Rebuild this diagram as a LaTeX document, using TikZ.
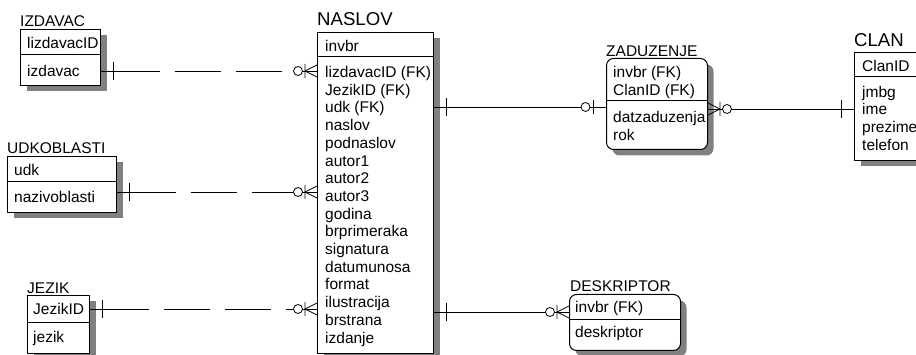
\documentclass[tikz,border=0pt]{standalone}
\usepackage{fontspec}
\setmainfont{Liberation Sans}
\usetikzlibrary{shadows}

\tikzset{
    ent/.style={draw, fill=white, line width=1pt, anchor=north west, inner sep=0pt,
        drop shadow={shadow xshift=6pt, shadow yshift=-6pt, fill=gray, opacity=1}},
    weak/.style={ent, rounded corners=7pt},
    sep/.style={line width=1pt},
    title/.style={anchor=west, inner sep=0pt},
    bigtitle/.style={title, font=\fontsize{18.6}{22}\selectfont},
    txt/.style={anchor=north west, inner sep=0pt, align=left},
    conn/.style={line width=0.8pt},
    dashes/.style={conn, dash pattern=on 46pt off 15pt},
    % jedan
    onebar/.pic={\draw[conn] (-12.5,-9) -- (-12.5,9);},
    % nula ili jedan
    zeroone/.pic={
        \draw[conn] (-13,-7) -- (-13,7);
        \draw[conn, fill=white] (-20.5,0) circle[radius=4.5pt];},
    % nula ili vise
    zeromany/.pic={
        \draw[conn] (-12,0) -- (0,-6) (-12,0) -- (0,6) (-12,-7) -- (-12,7);
        \draw[conn, fill=white] (-19,0) circle[radius=4.5pt];}
}

\begin{document}
\begin{tikzpicture}[x=1pt, y=-1pt, font=\fontsize{15.5}{17.7}\selectfont]
    \clip (0,0) rectangle (916,355);

    % IZDAVAC
    \node[title] (izdavactitle) at (20,21.5) {IZDAVAC};
    \node[ent, minimum width=80pt, minimum height=56pt] (izdavac) at (20,29) {};
    \draw[sep] (izdavac.west |- 0,55) -- (izdavac.east |- 0,55);
    \node[txt] (izdavackey) at (27,36) {\strut lizdavacID};
    \node[txt] (izdavacatr) at (27,64) {\strut izdavac};

    % UDKOBLASTI
    \node[title] (udktitle) at (7,148.5) {UDKOBLASTI};
    \node[ent, minimum width=109pt, minimum height=56pt] (udk) at (7,156) {};
    \draw[sep] (udk.west |- 0,182) -- (udk.east |- 0,182);
    \node[txt] (udkkey) at (14,163) {\strut udk};
    \node[txt] (udkatr) at (14,190) {\strut nazivoblasti};

    % JEZIK
    \node[title] (jeziktitle) at (27,288.5) {JEZIK};
    \node[ent, minimum width=62pt, minimum height=58pt] (jezik) at (27,295) {};
    \draw[sep] (jezik.west |- 0,323) -- (jezik.east |- 0,323);
    \node[txt] (jezikkey) at (33,302) {\strut JezikID};
    \node[txt] (jezikatr) at (33,330) {\strut jezik};

    % NASLOV
    \node[bigtitle] (naslovtitle) at (317,19.5) {NASLOV};
    \node[ent, minimum width=116pt, minimum height=321pt] (naslov) at (317,32) {};
    \draw[sep] (naslov.west |- 0,57) -- (naslov.east |- 0,57);
    \node[txt] (naslovkey) at (325,39) {\strut invbr};
    \node[txt] (naslovatr) at (325,65) {\strut lizdavacID (FK)\\ JezikID (FK)\\ udk (FK)\\
        naslov\\ podnaslov\\ autor1\\ autor2\\ autor3\\ godina\\ brprimeraka\\ signatura\\
        datumunosa\\ format\\ ilustracija\\ brstrana\\ izdanje};

    % ZADUZENJE
    \node[title] (zaduzenjetitle) at (606,51) {ZADUZENJE};
    \node[weak, minimum width=101pt, minimum height=91pt] (zaduzenje) at (606,58) {};
    \draw[sep] (zaduzenje.west |- 0,101) -- (zaduzenje.east |- 0,101);
    \node[txt] (zaduzenjekey) at (613,65) {\strut invbr (FK)\\ ClanID (FK)};
    \node[txt] (zaduzenjeatr) at (613,110) {\strut datzaduzenja\\ rok};

    % CLAN
    \node[bigtitle] (clantitle) at (854,40) {CLAN};
    \node[ent, minimum width=90pt, minimum height=108pt] (clan) at (854,52) {};
    \draw[sep] (clan.west |- 0,77) -- (clan.east |- 0,77);
    \node[txt] (clankey) at (862,59) {\strut ClanID};
    \node[txt] (clanatr) at (862,84.5) {\strut jmbg\\ ime\\ prezime\\ telefon};

    % DESKRIPTOR
    \node[title] (deskriptortitle) at (570,286) {DESKRIPTOR};
    \node[weak, minimum width=111pt, minimum height=56pt] (deskriptor) at (569,294) {};
    \draw[sep] (deskriptor.west |- 0,320) -- (deskriptor.east |- 0,320);
    \node[txt] (deskriptorkey) at (575,300) {\strut invbr (FK)};
    \node[txt] (deskriptoratr) at (575,325) {\strut deskriptor};

    % visine veza
    \coordinate (r1) at (0,71);
    \coordinate (r2) at (0,192);
    \coordinate (r3) at (0,309);
    \coordinate (r4) at (0,107);
    \coordinate (r5) at (0,109);
    \coordinate (r6) at (0,312);

    % neidentifikujuce veze (isprekidane)
    \draw[conn] (izdavac.east |- r1) -- +(12.5,0) (naslov.west |- r1) -- +(-19,0);
    \draw[dashes] ([xshift=12.5pt]izdavac.east |- r1) -- ([xshift=-19pt]naslov.west |- r1);
    \pic[rotate=180] at (izdavac.east |- r1) {onebar};
    \pic at (naslov.west |- r1) {zeromany};

    \draw[conn] (udk.east |- r2) -- +(12.5,0) (naslov.west |- r2) -- +(-19,0);
    \draw[dashes] ([xshift=12.5pt]udk.east |- r2) -- ([xshift=-19pt]naslov.west |- r2);
    \pic[rotate=180] at (udk.east |- r2) {onebar};
    \pic at (naslov.west |- r2) {zeromany};

    \draw[conn] (jezik.east |- r3) -- +(12.5,0) (naslov.west |- r3) -- +(-19,0);
    \draw[dashes] ([xshift=12.5pt]jezik.east |- r3) -- ([xshift=-19pt]naslov.west |- r3);
    \pic[rotate=180] at (jezik.east |- r3) {onebar};
    \pic at (naslov.west |- r3) {zeromany};

    % identifikujuce veze
    \draw[conn] (naslov.east |- r4) -- (zaduzenje.west |- r4);
    \pic[rotate=180] at (naslov.east |- r4) {onebar};
    \pic at (zaduzenje.west |- r4) {zeroone};

    \draw[conn] (zaduzenje.east |- r5) -- (clan.west |- r5);
    \pic[rotate=180] at (zaduzenje.east |- r5) {zeromany};
    \pic at (clan.west |- r5) {onebar};

    \draw[conn] (naslov.east |- r6) -- (deskriptor.west |- r6);
    \pic[rotate=180] at (naslov.east |- r6) {onebar};
    \pic at (deskriptor.west |- r6) {zeromany};
\end{tikzpicture}
\end{document}
